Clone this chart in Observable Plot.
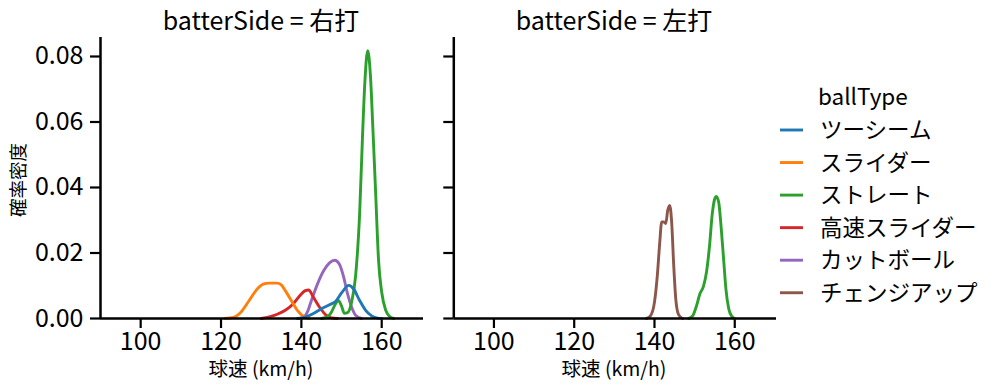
<!DOCTYPE html>
<html>
<head>
<meta charset="utf-8">
<script src="https://cdn.jsdelivr.net/npm/d3@7"></script>
<script src="https://cdn.jsdelivr.net/npm/@observablehq/plot@0.6"></script>
<style>
  html, body { margin: 0; padding: 0; background: #fff; }
  #wrap { position: relative; width: 999px; height: 391px; overflow: hidden; font-family: "Noto Sans CJK JP", sans-serif; }
  #wrap svg { position: absolute; top: 0; }
</style>
</head>
<body>
<div id="wrap"></div>
<script>
// ---- data ----
const ballTypes = ["ツーシーム", "スライダー", "ストレート", "高速スライダー", "カットボール", "チェンジアップ"];
const typeColors = ["#1f77b4", "#ff7f0e", "#2ca02c", "#d62728", "#9467bd", "#8c564b"];
const sides = ["右打", "左打"];
const facetVar = "batterSide";
const legendTitle = "ballType";
const xLabel = "球速 (km/h)";
const yLabel = "確率密度";
const xTicks = [100, 120, 140, 160];
const yTicks = [0, 0.02, 0.04, 0.06, 0.08];

// density curves: [speed km/h, density]
const rightTwoSeam = [[139,0],[141,0.0004],[143,0.0015],[145,0.003],[147,0.0042],[148.5,0.0052],[150,0.0078],[151.8,0.0101],[153,0.009],[154.5,0.0055],[156,0.0025],[157.5,0.0008],[159,0.0001],[160,0]];
const rightSlider = [[121,0],[123,0.0003],[125,0.002],[127,0.0055],[129,0.009],[130.5,0.0105],[132,0.0108],[134,0.0108],[135,0.0103],[136,0.0085],[137.5,0.0055],[139,0.0025],[140.5,0.0007],[142,0]];
const rightFastball = [[145,0],[146.5,0.0005],[147.5,0.002],[148.5,0.0045],[149.2,0.0055],[150,0.0038],[150.7,0.0016],[151.5,0.0018],[152.5,0.005],[153.5,0.013],[154.5,0.032],[155.2,0.055],[155.8,0.072],[156.5,0.0818],[157.2,0.074],[157.8,0.058],[158.5,0.038],[159.2,0.018],[160,0.008],[161,0.0025],[162,0.0006],[163,0]];
const rightHardSlider = [[130,0],[132,0.0005],[134,0.0013],[136,0.0025],[138,0.0045],[139.5,0.0068],[141,0.0085],[141.8,0.0087],[143,0.0065],[144.5,0.0035],[146,0.0012],[147.5,0.0002],[149,0]];
const rightCutter = [[139.5,0],[140.5,0.0003],[141.5,0.002],[142.5,0.0055],[144,0.0105],[145.5,0.0145],[147,0.017],[148.3,0.0178],[149.5,0.0165],[150.5,0.0128],[151.5,0.0075],[152.5,0.0035],[153.5,0.001],[155,0]];
const leftFastball = [[148.5,0],[149.5,0.0008],[150.5,0.004],[151.3,0.0075],[152.2,0.0098],[153,0.0145],[153.7,0.022],[154.4,0.032],[155,0.0365],[155.4,0.0373],[156,0.0355],[156.6,0.028],[157.2,0.0185],[157.8,0.009],[158.5,0.003],[159.3,0.0006],[160,0]];
const leftChangeup = [[138,0],[139,0.0008],[140,0.005],[140.7,0.013],[141.3,0.023],[141.8,0.0295],[142.3,0.0295],[142.8,0.029],[143.3,0.033],[143.8,0.0345],[144.3,0.029],[144.8,0.016],[145.3,0.006],[146,0.0012],[147,0]];

const curvesBySide = {
  "右打": [["ツーシーム", rightTwoSeam], ["スライダー", rightSlider], ["ストレート", rightFastball], ["高速スライダー", rightHardSlider], ["カットボール", rightCutter]],
  "左打": [["ストレート", leftFastball], ["チェンジアップ", leftChangeup]]
};

// rows, drawn in reverse hue order (first hue on top)
function rowsFor(side) {
  const list = curvesBySide[side].slice().sort((a, b) => ballTypes.indexOf(b[0]) - ballTypes.indexOf(a[0]));
  return list.flatMap(([type, pts]) => pts.map(([x, y]) => ({type, x, y})));
}

const FONT = "'Noto Sans CJK JP', sans-serif";
const wrap = document.getElementById("wrap");

function panel(side, showY, left, width, ml, mr) {
  const chart = Plot.plot({
    width, height: 391,
    marginLeft: ml, marginRight: mr, marginTop: 37, marginBottom: 73,
    style: {fontFamily: FONT, fontSize: "25px", color: "#000", background: "transparent", overflow: "visible"},
    x: {domain: [90, 170.4]},
    y: {domain: [0, 0.0858]},
    color: {domain: ballTypes, range: typeColors},
    marks: [
      Plot.axisX({ticks: xTicks, tickSize: 10, tickPadding: 4, strokeWidth: 2.2, label: null, fontSize: 25, tickFormat: d3.format("d")}),
      Plot.axisY({ticks: yTicks, tickSize: 10, tickPadding: 7, strokeWidth: 2.2, label: null, fontSize: 25,
                  tickFormat: showY ? d3.format(".2f") : () => ""}),
      Plot.line(rowsFor(side), {x: "x", y: "y", z: "type", stroke: "type", strokeWidth: 2.9, curve: "monotone-x"}),
      Plot.ruleX([90], {strokeWidth: 2.5}),
      Plot.ruleY([0], {strokeWidth: 2.5})
    ]
  });
  chart.style.left = left + "px";
  wrap.appendChild(chart);
}

panel("右打", true, 0, 430, 100, 7);
panel("左打", false, 430, 360, 23.3, 14);

// ---- overlay: facet titles, axis labels, legend ----
const ov = d3.select(wrap).append("svg")
  .attr("width", 999).attr("height", 391)
  .style("left", "0px").style("font-family", FONT).style("pointer-events", "none");

const centers = [261, 614];
sides.forEach((s, i) => {
  ov.append("text").attr("x", centers[i]).attr("y", 30).attr("text-anchor", "middle")
    .attr("font-size", 25).attr("fill", "#000").text(`${facetVar} = ${s}`);
  ov.append("text").attr("x", centers[i]).attr("y", 376).attr("text-anchor", "middle")
    .attr("font-size", 19.5).attr("fill", "#000").text(xLabel);
});
ov.append("text").attr("transform", "translate(25,180) rotate(-90)").attr("text-anchor", "middle")
  .attr("font-size", 18.5).attr("fill", "#000").text(yLabel);

ov.append("text").attr("x", 818).attr("y", 105).attr("font-size", 22.5).attr("fill", "#000").text(legendTitle);
ballTypes.forEach((t, i) => {
  const y = 130 + i * 32.55;
  ov.append("line").attr("x1", 780).attr("x2", 803).attr("y1", y).attr("y2", y)
    .attr("stroke", typeColors[i]).attr("stroke-width", 2.9);
  ov.append("text").attr("x", 820).attr("y", y).attr("dy", "0.36em").attr("font-size", 22.5)
    .attr("fill", "#000").text(t);
});
</script>
</body>
</html>
